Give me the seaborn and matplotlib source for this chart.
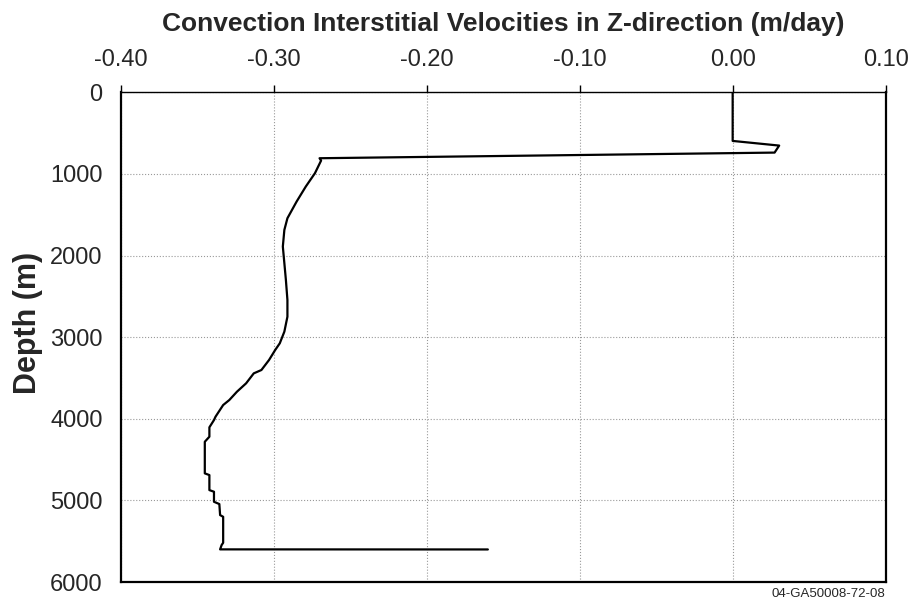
import matplotlib
matplotlib.use('Agg')
import matplotlib.pyplot as plt
import pandas as pd
import seaborn as sns
from matplotlib.ticker import FormatStrFormatter

# profile (velocity in m/day, depth in m)
velocity = [0.0, 0.0, 0.0304, 0.0274, -0.270, -0.269, -0.273, -0.279, -0.285,
            -0.291, -0.293, -0.294, -0.293, -0.292, -0.291, -0.291, -0.293,
            -0.296, -0.299, -0.303, -0.308, -0.313, -0.318, -0.324, -0.329,
            -0.333, -0.338, -0.339, -0.342, -0.342, -0.345, -0.345, -0.342,
            -0.342, -0.339, -0.339, -0.3355, -0.335, -0.333, -0.333, -0.334,
            -0.335, -0.160]
depth = [0, 596, 653, 739, 808, 837, 991, 1155, 1339,
         1543, 1686, 1890, 2094, 2299, 2544, 2749, 2932,
         3075, 3157, 3279, 3402, 3443, 3565, 3668, 3770,
         3831, 3974, 4015, 4104, 4219, 4281, 4668, 4689,
         4873, 4893, 5016, 5044, 5179, 5200, 5518, 5546,
         5599, 5600]

xticks = [-0.40, -0.30, -0.20, -0.10, 0.00, 0.10]
yticks = [0, 1000, 2000, 3000, 4000, 5000, 6000]

df = pd.DataFrame({'velocity': velocity, 'depth': depth})

sns.set_style('white')
plt.rcParams['font.family'] = ['Liberation Sans', 'DejaVu Sans']

fig = plt.figure(figsize=(9.14, 6.07), dpi=100)
ax = fig.add_axes([0.132, 0.041, 0.837, 0.807])

sns.lineplot(data=df, x='velocity', y='depth', sort=False, estimator=None,
             color='black', linewidth=1.6, ax=ax)

ax.set_xlim(xticks[0], xticks[-1])
ax.set_ylim(yticks[-1], yticks[0])
ax.set_xticks(xticks)
ax.set_yticks(yticks)
ax.xaxis.set_major_formatter(FormatStrFormatter('%.2f'))
ax.xaxis.tick_top()
ax.xaxis.set_label_position('top')
ax.tick_params(axis='both', labelsize=17, length=5, width=1, color='black',
               direction='out')
ax.tick_params(axis='x', pad=10)
ax.tick_params(axis='y', pad=8)
ax.grid(True, color='#999999', linestyle=':', linewidth=0.8)

for side, sp in ax.spines.items():
    sp.set_color('black')
    sp.set_linewidth(1.0 if side == 'top' else 1.6)

ax.set_xlabel('Convection Interstitial Velocities in Z-direction (m/day)',
              fontsize=19, fontweight='bold', labelpad=13)
ax.set_ylabel('Depth (m)', fontsize=22, fontweight='bold', labelpad=5)
ax.yaxis.label.set_y(0.53)

fig.text(0.969, 0.012, '04-GA50008-72-08', ha='right', va='bottom', fontsize=9.5)

fig.savefig('out.png', dpi=100)
